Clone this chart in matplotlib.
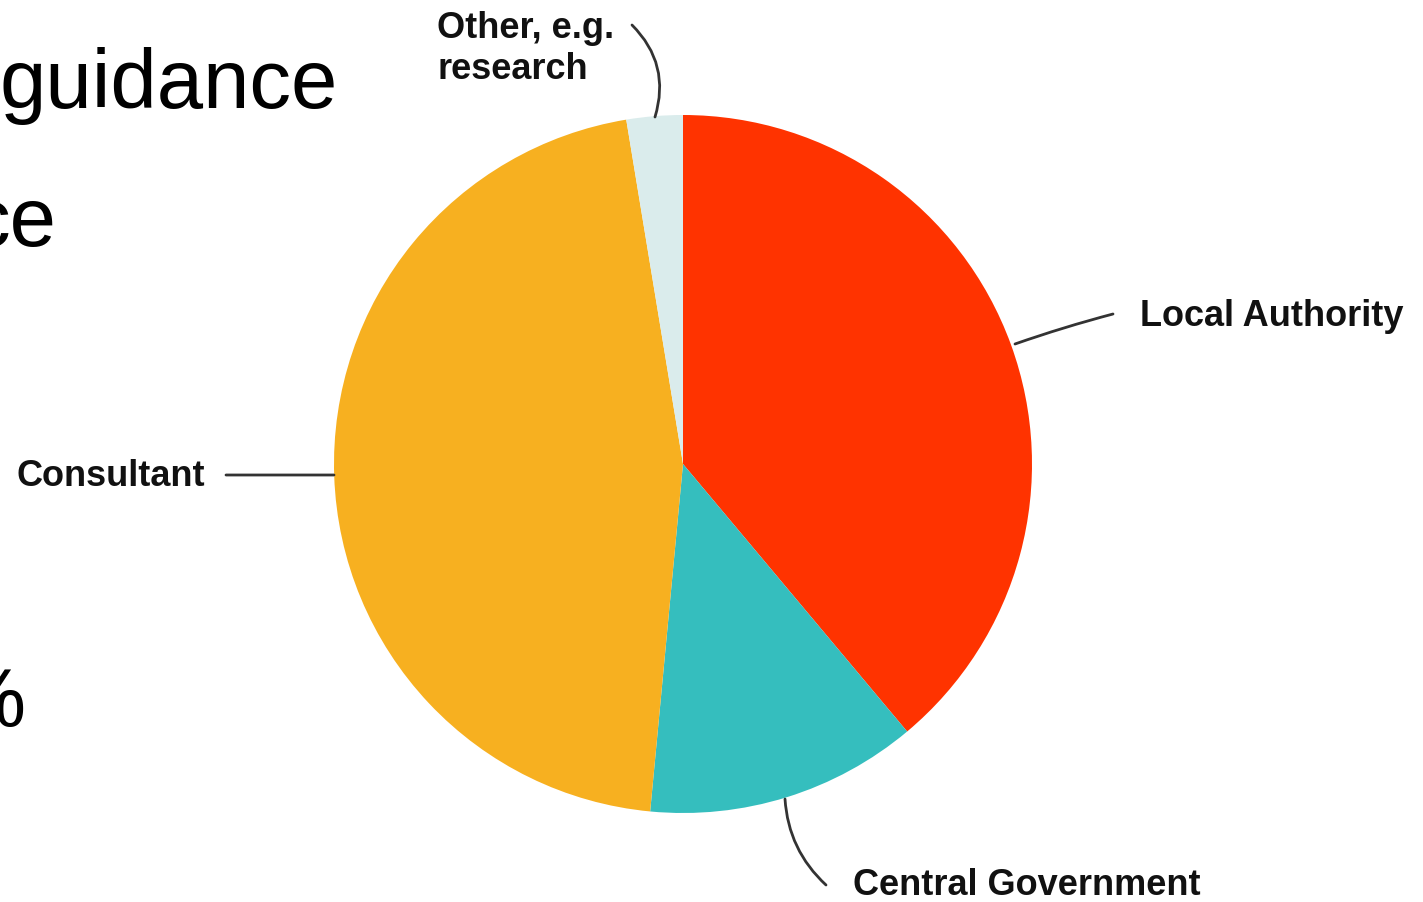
import matplotlib.pyplot as plt

# Data
labels = ['Local Authority', 'Central Government', 'Consultant', 'Other, e.g.\nresearch']
shares = [38.9, 12.6, 45.9, 2.6]
colors = ['#FF3300', '#35BEBE', '#F7B020', '#DAECEC']

# Cropped slide text on the left edge
slide_text = ['guidance', 'ce', '%']

W, H = 1423, 903
fig = plt.figure(figsize=(W / 100, H / 100), dpi=100)
ax = fig.add_axes([0, 0, 1, 1])
ax.set_xlim(0, W)
ax.set_ylim(0, H)
ax.set_aspect('equal')
ax.axis('off')

CX, CY, R = 683, H - 465, 349
ax.pie(shares, colors=colors, startangle=90, counterclock=False,
       center=(CX, CY), radius=R, wedgeprops=dict(linewidth=0))
ax.set_xlim(0, W)
ax.set_ylim(0, H)

LBL = dict(fontsize=26, fontweight='bold', family='Liberation Sans', color='#111111')
LINE = dict(arrowstyle='-', color='#333333', lw=2, shrinkA=0, shrinkB=0)

# labels
ax.text(1140, H - 316, labels[0], ha='left', va='center', **LBL)
ax.text(853, H - 886, labels[1], ha='left', va='center', **LBL)
ax.text(205, H - 476, labels[2], ha='right', va='center', **LBL)
ax.text(437, H - 49, labels[3], ha='left', va='center', linespacing=1.25, **LBL)

# connector lines
ax.annotate('', xy=(1015, H - 345), xytext=(1113, H - 315),
            arrowprops=dict(**LINE, connectionstyle='arc3,rad=0.02'))
ax.annotate('', xy=(785, H - 800), xytext=(826, H - 886),
            arrowprops=dict(**LINE, connectionstyle='arc3,rad=-0.2'))
ax.annotate('', xy=(CX - R, H - 476), xytext=(226, H - 476),
            arrowprops=dict(**LINE))
ax.annotate('', xy=(655, H - 118), xytext=(632, H - 26),
            arrowprops=dict(**LINE, connectionstyle='arc3,rad=-0.3'))

# Slide body text cut off at the left
BODY = dict(fontsize=60, family='Liberation Sans', color='black', ha='right', va='baseline')
ax.text(338, H - 108, slide_text[0], **BODY)
ax.text(57, H - 246, slide_text[1], **BODY)
ax.text(26, H - 727, slide_text[2], **BODY)

fig.savefig('out.png', dpi=100)
